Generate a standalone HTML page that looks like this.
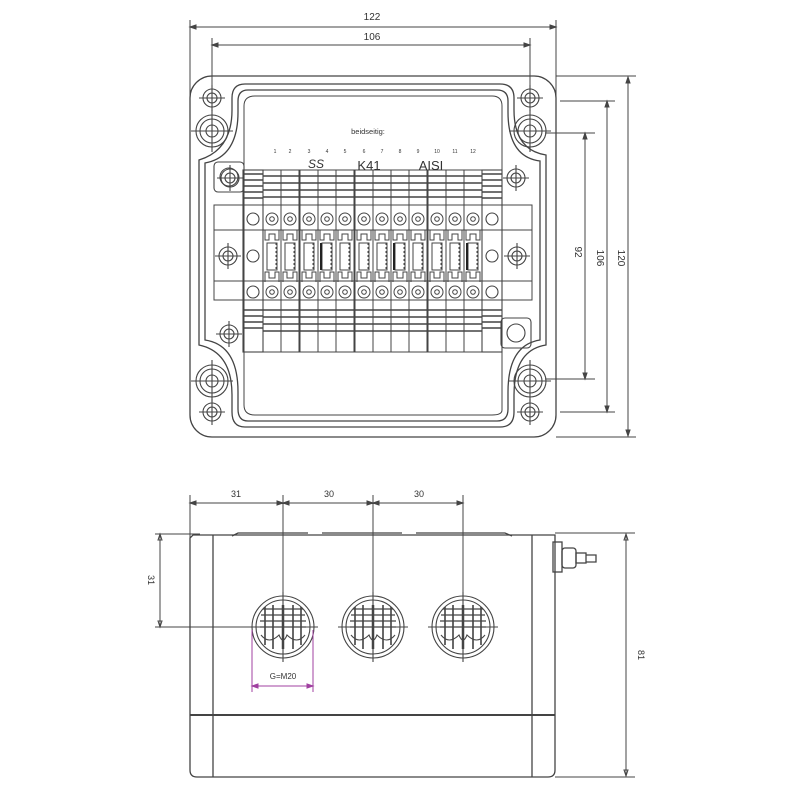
<!DOCTYPE html>
<html><head><meta charset="utf-8"><style>
html,body{margin:0;padding:0;background:#fff}
svg{display:block}
text{font-family:"Liberation Sans",sans-serif;fill:#333}
</style></head><body>
<svg width="800" height="800" viewBox="0 0 800 800" xmlns="http://www.w3.org/2000/svg">
<defs>
<g id="hole" fill="none" stroke="#444" stroke-width="1.1">
<circle r="16"/><circle r="12"/><circle r="6"/><path d="M-21 0H21M0 -21V21"/>
</g>
<g id="shole" fill="none" stroke="#444" stroke-width="1.1">
<circle r="9"/><circle r="5"/><path d="M-13 0H13M0 -13V13"/>
</g>
<g id="term" fill="none" stroke="#444" stroke-width="1">
<rect x="-9" y="170" width="18" height="182"/>
<path d="M-9 176H9M-9 183H9M-9 190H9M-9 197H9M-9 310H9M-9 317H9M-9 324H9M-9 331H9" stroke-width="1.4"/>
<circle cy="219" r="6"/><circle cy="219" r="2.3"/>
<circle cy="292" r="6"/><circle cy="292" r="2.3"/>
<path d="M-7 230V240H-3V234H3V240H7V230M-7 282V272H-3V278H3V272H7V282"/>
<rect x="-5" y="243" width="10" height="27"/>
<path d="M4 243V270" stroke-dasharray="2 2"/>
</g>
<g id="gland" fill="none" stroke="#444" stroke-width="1.1">
<circle r="31"/><circle r="27"/>
<path d="M-35 0H35M0 -35V35"/>
<path d="M-20 -18H20M-22 -12H22M-23 -6H23M-23 0H23" stroke-width="1.3"/>
<path d="M-18 -20V18M-10 -22V22M10 -22V22M18 -20V18" stroke-width="1.6"/>
<path d="M-22 8Q-14 18 -4 8Q0 18 4 8Q14 18 22 8"/>
<path d="M0 -22V22" stroke-width="2.5"/>
</g>
</defs>

<g fill="none" stroke="#444" stroke-width="1">
<path d="M190 20V150M556 20V150M212 38V100M530 38V100"/>
<path d="M190 27H556M212 45H530"/>
<path d="M190 27l6 -2v4zM556 27l-6 -2v4zM212 45l6 -2v4zM530 45l-6 -2v4z" fill="#444"/>
<path d="M556 76H636M556 437H636M560 101H615M560 412H615M545 133H595M545 379H595"/>
<path d="M628 77V436M607 101V412M585 133V379"/>
<path d="M628 77l-2 6h4zM628 436l-2 -6h4zM607 101l-2 6h4zM607 412l-2 -6h4zM585 133l-2 6h4zM585 379l-2 -6h4z" fill="#444"/>
</g>
<text x="372" y="20" font-size="10" text-anchor="middle">122</text>
<text x="372" y="40" font-size="10" text-anchor="middle">106</text>
<text font-size="10" text-anchor="middle" transform="translate(575,252) rotate(90)">92</text>
<text font-size="10" text-anchor="middle" transform="translate(597,258) rotate(90)">106</text>
<text font-size="10" text-anchor="middle" transform="translate(618,258) rotate(90)">120</text>

<g fill="none" stroke="#444" stroke-width="1.3">
<rect x="190" y="76" width="366" height="361" rx="22"/>
<path d="M245 84H500Q514 84 514 98V110Q514 150 546 155V345Q514 350 514 395V412Q514 427 500 427H245Q232 427 232 412V395Q232 352 199 345V160Q232 150 232 110V98Q232 84 245 84Z"/>
<path d="M248 90H497Q508 90 508 101V112Q508 157 540 161V340Q508 345 508 392V409Q508 421 497 421H248Q238 421 238 409V392Q238 345 205 340V163Q238 157 238 112V101Q238 90 248 90Z"/>
<path d="M255 96H492Q502 96 502 106V410Q502 415 492 415H255Q244 415 244 405V106Q244 96 255 96Z" stroke-width="1"/>
</g>
<use href="#shole" x="212" y="98"/><use href="#hole" x="212" y="131"/>
<use href="#shole" x="530" y="98"/><use href="#hole" x="530" y="131"/>
<use href="#hole" x="212" y="381"/><use href="#shole" x="212" y="412"/>
<use href="#hole" x="530" y="381"/><use href="#shole" x="530" y="412"/>

<g fill="none" stroke="#444" stroke-width="1">
<rect x="214" y="205" width="318" height="95"/>
<path d="M214 230H532M214 281H532"/>
</g>
<use href="#shole" x="228" y="256"/><use href="#shole" x="517" y="256"/>
<use href="#shole" x="230" y="178"/><use href="#shole" x="516" y="178"/>
<use href="#shole" x="229" y="334"/>
<g fill="none" stroke="#444" stroke-width="1.1">
<rect x="214" y="162" width="30" height="30" rx="4"/><circle cx="229" cy="177" r="9"/>
<rect x="501" y="318" width="30" height="30" rx="4"/><circle cx="516" cy="333" r="9"/>
<rect x="243" y="170" width="20" height="182"/><rect x="482" y="170" width="20" height="182"/>
<path d="M243 174H263M243 180H263M243 186H263M243 192H263M243 198H263M243 310H263M243 316H263M243 322H263M243 328H263M482 174H502M482 180H502M482 186H502M482 192H502M482 198H502M482 310H502M482 316H502M482 322H502M482 328H502" stroke-width="1.6"/>
<circle cx="253" cy="219" r="6"/><circle cx="253" cy="292" r="6"/><circle cx="253" cy="256" r="6"/>
<circle cx="492" cy="219" r="6"/><circle cx="492" cy="292" r="6"/><circle cx="492" cy="256" r="6"/>
</g>
<use href="#term" x="272"/><use href="#term" x="290"/><use href="#term" x="309"/><use href="#term" x="327"/>
<use href="#term" x="345"/><use href="#term" x="364"/><use href="#term" x="382"/><use href="#term" x="400"/>
<use href="#term" x="418"/><use href="#term" x="437"/><use href="#term" x="455"/><use href="#term" x="473"/>
<path d="M321 243V270M394 243V270M467 243V270" stroke="#222" stroke-width="2"/>
<text x="368" y="134" font-size="7.5" text-anchor="middle">beidseitig:</text>
<g font-size="5" fill="#777" text-anchor="middle">
<text x="275" y="153">1</text><text x="290" y="153">2</text><text x="309" y="153">3</text><text x="327" y="153">4</text><text x="345" y="153">5</text><text x="364" y="153">6</text><text x="382" y="153">7</text><text x="400" y="153">8</text><text x="418" y="153">9</text><text x="437" y="153">10</text><text x="455" y="153">11</text><text x="473" y="153">12</text></g>
<text x="316" y="168" font-size="12" font-style="italic" fill="#666" text-anchor="middle">SS</text>
<text x="369" y="170" font-size="13" text-anchor="middle">K41</text>
<text x="431" y="170" font-size="13" text-anchor="middle">AISI</text>

<g fill="none" stroke="#444" stroke-width="1">
<path d="M190 495V540M283 495V660M373 495V660M463 495V660"/>
<path d="M190 503H463"/>
<path d="M190 503l6 -2v4zM283 503l-6 -2v4zM283 503l6 -2v4zM373 503l-6 -2v4zM373 503l6 -2v4zM463 503l-6 -2v4z" fill="#444"/>
<path d="M155 534H200M155 627H255M160 534V627M160 534l-2 6h4zM160 627l-2 -6h4z"/>
<path d="M555 533H635M555 777H635M626 534V776M626 534l-2 6h4zM626 776l-2 -6h4z"/>
</g>
<g fill="none" stroke="#444" stroke-width="1.3">
<path d="M193 535H555V770Q555 777 548 777H197Q190 777 190 770V538Z"/>
<path d="M213 535V777M532 535V777"/>
<path d="M190 715H555" stroke-width="2"/>
<path d="M232 536L238 533H308M322 533H402M416 533H505L512 536"/>
<rect x="553" y="542" width="9" height="30"/>
<rect x="562" y="548" width="14" height="20" rx="3"/>
<rect x="576" y="553" width="10" height="10"/>
<path d="M586 555H596V562H586"/>
</g>
<use href="#gland" x="283" y="627"/><use href="#gland" x="373" y="627"/><use href="#gland" x="463" y="627"/>
<g stroke="#a040a0" fill="none" stroke-width="1">
<path d="M252 630V692M313 630V692M252 686H313"/>
<path d="M252 686l6 -2v4zM313 686l-6 -2v4z" fill="#a040a0"/>
</g>
<text x="283" y="679" font-size="8" text-anchor="middle" fill="#a040a0">G=M20</text>
<text x="236" y="497" font-size="9" text-anchor="middle">31</text>
<text x="329" y="497" font-size="9" text-anchor="middle">30</text>
<text x="419" y="497" font-size="9" text-anchor="middle">30</text>
<text font-size="9" text-anchor="middle" transform="translate(148,580) rotate(90)">31</text>
<text font-size="9" text-anchor="middle" transform="translate(638,655) rotate(90)">81</text>
</svg>
</body></html>
